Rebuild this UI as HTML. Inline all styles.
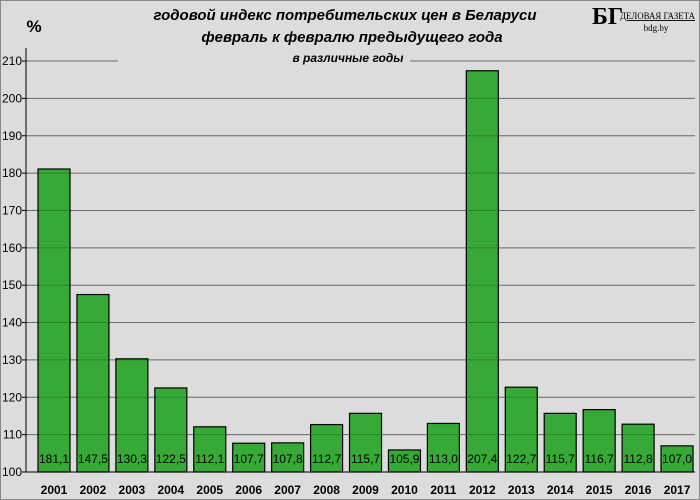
<!DOCTYPE html>
<html><head><meta charset="utf-8"><style>
body{margin:0;background:#dcdcdc;}
svg{display:block;font-family:"Liberation Sans",sans-serif;}
</style></head><body>
<svg width="700" height="500">
<rect x="0.5" y="0.5" width="699" height="499" fill="#dcdcdc" stroke="#888"/>
<g id="grid"></g>
<g id="bars"></g>
<g id="gridover"></g>
<line x1="26" y1="48" x2="26" y2="472" stroke="#000"/>
<line x1="26" y1="472" x2="695" y2="472" stroke="#000"/>
<g id="labels"></g>
<text x="34" y="32" font-size="17" font-weight="bold" text-anchor="middle">%</text>
<rect x="118" y="52" width="292" height="18" fill="#dcdcdc"/>
<text x="345" y="20" font-size="15" font-weight="bold" font-style="italic" text-anchor="middle">годовой индекс  потребительских  цен в Беларуси</text>
<text x="352" y="42" font-size="15" font-weight="bold" font-style="italic" text-anchor="middle">февраль  к февралю  предыдущего  года</text>
<text x="348" y="62" font-size="12" font-weight="bold" font-style="italic" text-anchor="middle">в различные годы</text>
<g>
<text x="592" y="24" font-family="Liberation Serif,serif" font-size="24" font-weight="bold">БГ</text>
<text x="620" y="19" font-family="Liberation Serif,serif" font-size="9" textLength="75" lengthAdjust="spacingAndGlyphs" text-decoration="underline">ДЕЛОВАЯ ГАЗЕТА</text>
<text x="656" y="31" font-family="Liberation Serif,serif" font-size="9" text-anchor="middle">bdg.by</text>
</g>
</svg>
<script>
const years=["2001","2002","2003","2004","2005","2006","2007","2008","2009","2010","2011","2012","2013","2014","2015","2016","2017"];
const values=[181.1,147.5,130.3,122.5,112.1,107.7,107.8,112.7,115.7,105.9,113.0,207.4,122.7,115.7,116.7,112.8,107.0];
const yTicks=[100,110,120,130,140,150,160,170,180,190,200,210];
const NS="http://www.w3.org/2000/svg";
const y0=472,ppu=3.736,x0=26,step=38.94,bw=32;
const y=v=>y0-(v-100)*ppu;
const x=i=>38+i*step;
function mk(t,a,p){const e=document.createElementNS(NS,t);for(const k in a)e.setAttribute(k,a[k]);p.appendChild(e);return e;}
const grid=document.getElementById('grid'),bars=document.getElementById('bars'),go=document.getElementById('gridover'),lab=document.getElementById('labels');
yTicks.forEach(t=>{
 const l=mk('line',{x1:x0,x2:695,y1:y(t),y2:y(t),stroke:'#888'},grid);
 
 
 const l2=mk('line',{x1:x0,x2:695,y1:y(t),y2:y(t),stroke:'#000','stroke-opacity':0.2},go);
 
 
 const tk=mk('line',{x1:x0-4,x2:x0,y1:y(t),y2:y(t),stroke:'#000'},lab);
 
 
 const tx=mk('text',{x:x0-4,y:y(t)+4,'font-size':12,'text-anchor':'end'},lab);
 tx.textContent=t;
 
 
});
values.forEach((v,i)=>{
 const r=mk('rect',{x:x(i),y:y(v),width:bw,height:y0-y(v),fill:'#36a936',stroke:'#000','stroke-width':1.2},bars);
 
 
 const t=mk('text',{x:x(i)+bw/2,y:463,'font-size':12,'text-anchor':'middle'},lab);
 t.textContent=v.toFixed(1).replace('.',',');
 
 
 const yt=mk('text',{x:x(i)+bw/2,y:494,'font-size':12,'font-weight':'bold','text-anchor':'middle'},lab);
 yt.textContent=years[i];
 
 
});
</script>
</body></html>
